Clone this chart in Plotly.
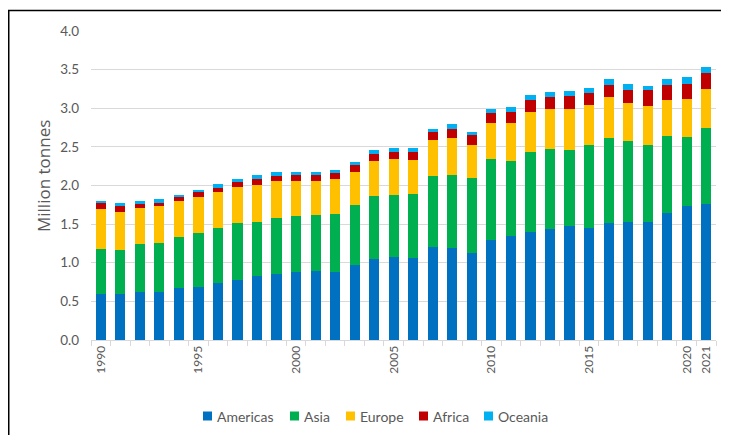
import plotly.graph_objects as go

# years on the x axis
years = list(range(1990, 2022))

# production by region, million tonnes
americas = [0.60, 0.59, 0.62, 0.62, 0.67, 0.69, 0.74, 0.78, 0.83, 0.86,
            0.88, 0.89, 0.88, 0.97, 1.05, 1.07, 1.06, 1.20, 1.19, 1.12,
            1.30, 1.34, 1.40, 1.44, 1.47, 1.45, 1.51, 1.53, 1.53, 1.65,
            1.73, 1.76]
asia = [0.58, 0.58, 0.62, 0.63, 0.66, 0.70, 0.71, 0.73, 0.70, 0.72,
        0.73, 0.73, 0.75, 0.78, 0.82, 0.81, 0.83, 0.92, 0.95, 0.98,
        1.04, 0.98, 1.03, 1.03, 0.99, 1.07, 1.11, 1.04, 1.00, 0.99,
        0.90, 0.98]
europe = [0.51, 0.49, 0.47, 0.49, 0.47, 0.46, 0.46, 0.47, 0.48, 0.48,
          0.45, 0.44, 0.46, 0.43, 0.45, 0.46, 0.44, 0.47, 0.48, 0.43,
          0.47, 0.49, 0.52, 0.52, 0.53, 0.52, 0.52, 0.50, 0.50, 0.47,
          0.49, 0.51]
africa = [0.08, 0.08, 0.05, 0.04, 0.05, 0.06, 0.06, 0.07, 0.07, 0.06,
          0.07, 0.07, 0.07, 0.09, 0.09, 0.10, 0.11, 0.10, 0.11, 0.12,
          0.13, 0.14, 0.16, 0.16, 0.17, 0.16, 0.16, 0.17, 0.20, 0.19,
          0.20, 0.20]
oceania = [0.03, 0.03, 0.04, 0.04, 0.03, 0.03, 0.05, 0.04, 0.05, 0.05,
           0.05, 0.05, 0.04, 0.04, 0.05, 0.05, 0.04, 0.04, 0.06, 0.04,
           0.05, 0.07, 0.06, 0.06, 0.06, 0.06, 0.08, 0.07, 0.06, 0.08,
           0.08, 0.09]

# labelled ticks
x_tick_years = [1990, 1995, 2000, 2005, 2010, 2015, 2020, 2021]
y_ticks = [0.0, 0.5, 1.0, 1.5, 2.0, 2.5, 3.0, 3.5, 4.0]

series = [
    ("Americas", americas, "#0070C0"),
    ("Asia", asia, "#00B050"),
    ("Europe", europe, "#FFC000"),
    ("Africa", africa, "#C00000"),
    ("Oceania", oceania, "#00B0F0"),
]

FONT = "Lato, 'Open Sans', sans-serif"
GREY = "#595959"

fig = go.Figure()
for name, vals, col in series:
    fig.add_trace(go.Bar(x=years, y=vals, name=name, marker_color=col,
                         marker_line_width=0, showlegend=False))

# the page body adds an 8px offset, so work in shifted pixels
OFF = 8
W, H = 729 - OFF, 435 - OFF
# plot area (target pixels) x 91..716, y 31..340
L, R, T, B = 91 - OFF, 716 - OFF, 31 - OFF, 340 - OFF
pw, ph = R - L, B - T


def px_x(p):
    return (p - OFF - L) / pw


def px_y(p):
    return (B - (p - OFF)) / ph


# compact Excel-style legend: key squares + labels under the chart
legend_left = [203, 290, 346, 419, 484]   # left edge of each key (px)
legend_y, key = 416, 9
shapes = []
annotations = []
for (name, _, col), x0 in zip(series, legend_left):
    shapes.append(dict(type="rect", xref="paper", yref="paper",
                       x0=px_x(x0), x1=px_x(x0 + key),
                       y0=px_y(legend_y - key / 2), y1=px_y(legend_y + key / 2),
                       fillcolor=col, line_width=0))
    annotations.append(dict(text=name, showarrow=False, xref="paper",
                            yref="paper", x=px_x(x0 + key + 3),
                            y=px_y(legend_y), xanchor="left",
                            yanchor="middle",
                            font=dict(size=14, color=GREY)))

annotations.append(dict(
    text="Million tonnes", textangle=-90, showarrow=False,
    xref="paper", yref="paper", x=px_x(43), y=px_y(176),
    xanchor="center", yanchor="middle",
    font=dict(size=17, color=GREY, family="'Open Sans', sans-serif"),
))

# frame lines (top and left) of the cropped source image
shapes += [
    dict(type="line", xref="paper", yref="paper",
         x0=px_x(OFF), x1=px_x(740), y0=px_y(OFF + 2.5),
         y1=px_y(OFF + 2.5), line=dict(color="black", width=1.5)),
    dict(type="line", xref="paper", yref="paper",
         x0=px_x(OFF + 0.75), x1=px_x(OFF + 0.75), y0=px_y(OFF + 2),
         y1=px_y(445), line=dict(color="black", width=1.5)),
]

fig.update_layout(
    template="none",
    width=W, height=H,
    margin=dict(l=L, r=W - R, t=T, b=H - B, pad=0),
    barmode="stack",
    bargap=0.48,
    paper_bgcolor="white",
    plot_bgcolor="white",
    font=dict(family=FONT, color=GREY),
    showlegend=False,
    xaxis=dict(
        automargin=False,
        range=[1989.5, 2021.5],
        tickmode="array", tickvals=x_tick_years,
        ticktext=[str(y) for y in x_tick_years],
        tickangle=-90, ticks="", tickfont=dict(size=12, color=GREY),
        showgrid=False, zeroline=False,
        showline=True, linecolor="#D9D9D9", linewidth=1,
        minor=dict(tickmode="linear", tick0=1989.5, dtick=1,
                   ticks="outside", ticklen=5, tickcolor="#D9D9D9",
                   showgrid=False),
    ),
    yaxis=dict(
        automargin=False,
        range=[0, 4.0], tickmode="array", tickvals=y_ticks,
        ticktext=[f"{v:.1f}" for v in y_ticks],
        tickfont=dict(size=13.5, color=GREY),
        showgrid=True, gridcolor="#D9D9D9", gridwidth=1,
        zeroline=False, showline=False, ticks="",
        ticklabelstandoff=11,
    ),
    annotations=annotations,
    shapes=shapes,
)

fig.write_html("out.html")
